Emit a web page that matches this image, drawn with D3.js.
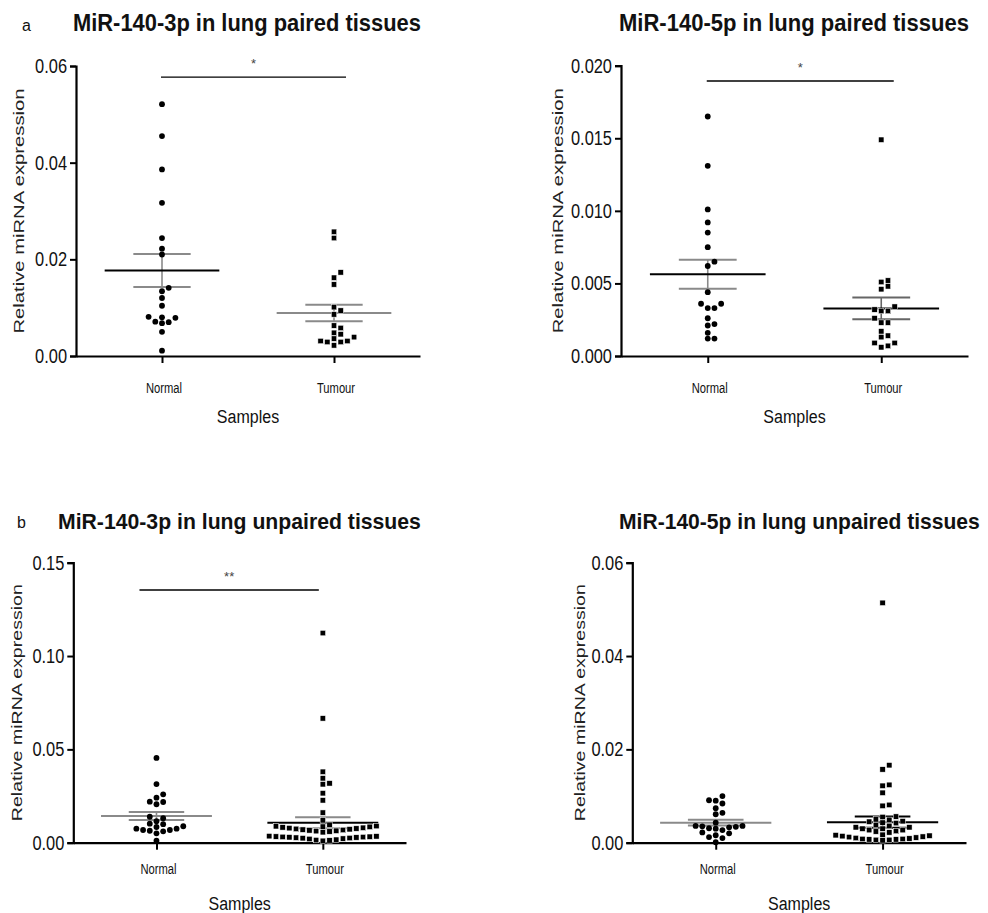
<!DOCTYPE html>
<html><head><meta charset="utf-8">
<script src="https://cdn.jsdelivr.net/npm/d3@7"></script>
<style>body{margin:0;background:#fff}svg{display:block}</style>
</head><body>
<svg id="chart" width="988" height="913"></svg>
<script>
// ---------------- DATA ----------------
const categories = ["Normal", "Tumour"];

// a: paired tissues
const p3Normal = [0.0521,0.0455,0.0386,0.0317,0.0244,0.0222,0.0210,0.0141,0.0134,0.0120,0.0104,0.0081,0.0080,0.0079,0.0071,0.0070,0.0068,0.0050,0.0011];
const p3Tumour = [0.0257,0.0244,0.0173,0.0162,0.0148,0.0101,0.0094,0.0086,0.0063,0.0058,0.0048,0.0045,0.0039,0.0036,0.0031,0.0031,0.0029,0.0029,0.0022];
const p5Normal = [0.0165,0.0131,0.0101,0.0092,0.0085,0.0075,0.0065,0.0062,0.0044,0.0036,0.0036,0.0033,0.0033,0.0026,0.0022,0.0021,0.0016,0.0012,0.0012];
const p5Tumour = [0.0149,0.0052,0.0051,0.0048,0.0046,0.0034,0.0032,0.0031,0.0031,0.0026,0.0023,0.0023,0.0017,0.0014,0.0013,0.0009,0.0009,0.0007,0.0006];

// b: unpaired tissues
const u3Normal = [0.0454,0.0314,0.0259,0.0241,0.0220,0.0218,0.0206,0.0139,0.0131,0.0115,0.0102,0.0099,0.0088,0.0084,0.0075,0.0075,0.0068,0.0068,0.0064,0.0061,0.0050,0.0011];
const u3Tumour = [0.1123,0.0666,0.0380,0.0345,0.0318,0.0313,0.0265,0.0227,0.0161,0.0120,0.0096,
  0.0089,0.0088,0.0086,0.0085,0.0082,0.0080,0.0078,0.0076,0.0074,0.0072,0.0070,0.0068,0.0066,0.0064,0.0062,0.0060,0.0056,
  0.0035,0.0034,0.0033,0.0032,0.0031,0.0030,0.0029,0.0028,0.0027,0.0025,0.0024,0.0022,0.0020,0.0016,0.0014,0.0012,0.0010];
const u5Normal = [0.0100,0.0091,0.0090,0.0084,0.0074,0.0064,0.0061,0.0043,0.0036,0.0036,0.0035,0.0034,0.0033,0.0031,0.0030,0.0027,0.0022,0.0020,0.0016,0.0012,0.0010,0.0001];
const u5Tumour = [0.0514,0.0166,0.0157,0.0124,0.0122,0.0107,0.0081,0.0079,
  0.0056,0.0055,0.0050,0.0049,0.0046,0.0045,0.0043,0.0042,
  0.0038,0.0036,0.0033,0.0033,0.0030,0.0030,0.0027,0.0027,0.0025,0.0024,0.0022,
  0.0017,0.0016,0.0015,0.0014,0.0013,0.0012,0.0011,0.0010,0.0009,0.0008,0.0008,0.0007,0.0007,0.0006,0.0006,0.0005];

// mean and SEM (Normal, Tumour)
const p3Mean = [0.0177, 0.0089],  p3Sem = [0.0034, 0.0017];
const p5Mean = [0.00563, 0.00328], p5Sem = [0.00100, 0.00075];
const u3Mean = [0.0143, 0.0107],  u3Sem = [0.0021, 0.0030];
const u5Mean = [0.0043, 0.0044],  u5Sem = [0.0006, 0.0012];

// axis ticks
const p3Ticks = [0, 0.02, 0.04, 0.06];
const p5Ticks = [0, 0.005, 0.010, 0.015, 0.020];
const u3Ticks = [0, 0.05, 0.10, 0.15];
const u5Ticks = [0, 0.02, 0.04, 0.06];

// significance annotations
const p3Sig = {level: 0.0577, label: "*"};
const p5Sig = {level: 0.01895, label: "*"};
const u3Sig = {level: 0.1354, label: "**"};

// ---------------- LAYOUT ----------------
const FONT = "'Liberation Sans', Arial, Helvetica, sans-serif";
const GRAY = "#8a8a8a";
const svg = d3.select("#chart");

const panels = [
  {letter:"a", lx:22, lb:31, title:"MiR-140-3p in lung paired tissues", tx0:73, tx1:421, tb:31, tfs:23.5,
   x0:76, x1:420, yTop:66, yBot:356, max:0.06, ticks:p3Ticks, fmt:".2f",
   normal:p3Normal, tumour:p3Tumour, mean:p3Mean, sem:p3Sem,
   meanCol:["#000", GRAY], semCol:[GRAY, GRAY], sig:p3Sig, sigDx:[-1, 12],
   ylabX:18, ylabLen:245},
  {letter:"", title:"MiR-140-5p in lung paired tissues", tx0:619, tx1:969, tb:31, tfs:23.5,
   x0:621, x1:968, yTop:65.7, yBot:356, max:0.020, ticks:p5Ticks, fmt:".3f",
   normal:p5Normal, tumour:p5Tumour, mean:p5Mean, sem:p5Sem,
   meanCol:["#000", "#000"], semCol:[GRAY, "#666"], sig:p5Sig, sigDx:[-1, 12.5],
   ylabX:557, ylabLen:245},
  {letter:"b", lx:17, lb:528, title:"MiR-140-3p in lung unpaired tissues", tx0:58, tx1:421, tb:529, tfs:22.5,
   x0:73.3, x1:406, yTop:562.7, yBot:842.7, max:0.15, ticks:u3Ticks, fmt:".2f",
   normal:u3Normal, tumour:u3Tumour, mean:u3Mean, sem:u3Sem,
   meanCol:[GRAY, "#000"], semCol:[GRAY, GRAY], sig:u3Sig, sigDx:[-17, -4],
   ylabX:16, ylabLen:237},
  {letter:"", title:"MiR-140-5p in lung unpaired tissues", tx0:619, tx1:980, tb:529, tfs:22.5,
   x0:632.3, x1:966, yTop:562.7, yBot:842.7, max:0.06, ticks:u5Ticks, fmt:".2f",
   normal:u5Normal, tumour:u5Tumour, mean:u5Mean, sem:u5Sem,
   meanCol:[GRAY, "#000"], semCol:[GRAY, "#000"], sig:null,
   ylabX:579, ylabLen:237}
];

function squeeze(sel, ratio) {
  sel.each(function() {
    const w = this.getComputedTextLength();
    d3.select(this).attr("textLength", w * ratio).attr("lengthAdjust", "spacingAndGlyphs");
  });
}

// simple dodge (beeswarm) layout computed from values
function dodge(values, y, step, size) {
  const order = values.map((v, i) => i).sort((a, b) => values[a] - values[b]);
  const placed = [];
  const out = new Array(values.length);
  for (const i of order) {
    const py = y(values[i]);
    for (let k = 0; k < 400; k++) {
      const off = k === 0 ? 0 : (k % 2 ? Math.ceil(k / 2) : -Math.ceil(k / 2));
      const px = off * step;
      if (!placed.some(q => Math.abs(q.x - px) < step * 0.99 && Math.abs(q.y - py) < size)) {
        placed.push({x: px, y: py});
        out[i] = {dx: px, v: values[i]};
        break;
      }
    }
  }
  return out;
}

panels.forEach(p => {
  const g = svg.append("g");
  const x = d3.scalePoint().domain(categories).range([p.x0, p.x1]).padding(0.5);
  const y = d3.scaleLinear().domain([0, p.max]).range([p.yBot, p.yTop]);
  const band = x.step();

  // letter
  if (p.letter) {
    g.append("text").attr("x", p.lx).attr("y", p.lb).text(p.letter)
      .attr("font-family", FONT).attr("font-size", 16).attr("fill", "#111");
  }
  // title (condensed with a horizontal scale so it spans the measured width)
  const tt = g.append("text").attr("x", 0).attr("y", 0).text(p.title)
    .attr("font-family", FONT).attr("font-weight", "bold").attr("font-size", p.tfs)
    .attr("fill", "#111");
  const tw = tt.node().getComputedTextLength();
  tt.attr("transform", `translate(${p.tx0},${p.tb}) scale(${(p.tx1 - p.tx0) / tw},1)`);

  // y axis
  const yAxis = d3.axisLeft(y).tickValues(p.ticks).tickFormat(d3.format(p.fmt)).tickSize(6).tickPadding(3);
  const ya = g.append("g").attr("transform", `translate(${p.x0},0)`).call(yAxis);
  ya.select(".domain").attr("stroke", "#000").attr("stroke-width", 2.2);
  ya.selectAll(".tick line").attr("stroke", "#000").attr("stroke-width", 2);
  ya.selectAll(".tick text").attr("font-family", FONT).attr("font-size", 20).attr("fill", "#111");
  squeeze(ya.selectAll(".tick text"), 0.82);

  // x axis
  const xAxis = d3.axisBottom(x).tickSize(7).tickSizeOuter(0).tickPadding(0).tickFormat("");
  const xa = g.append("g").attr("transform", `translate(0,${p.yBot})`).call(xAxis);
  xa.select(".domain").attr("stroke", "#000").attr("stroke-width", 2.2);
  xa.selectAll(".tick line").attr("stroke", "#000").attr("stroke-width", 2);
  // category labels
  const cl = g.selectAll(".cat").data(categories).enter().append("text").attr("class", "cat")
    .attr("x", d => x(d) + 2).attr("y", p.yBot + (p.yBot > 500 ? 31 : 37))
    .attr("text-anchor", "middle").text(d => d)
    .attr("font-family", FONT).attr("font-size", 14).attr("fill", "#111");
  squeeze(cl, 0.8);

  // x title
  const st = g.append("text").attr("x", (p.x0 + p.x1) / 2).attr("y", p.yBot + 67)
    .attr("text-anchor", "middle").text("Samples")
    .attr("font-family", FONT).attr("font-size", 18).attr("fill", "#111");
  squeeze(st, 0.89);

  // y title
  g.append("text").attr("transform", `translate(${p.ylabX + 5.5},${(p.yTop + p.yBot) / 2}) rotate(-90)`)
    .attr("text-anchor", "middle").text("Relative miRNA expression")
    .attr("font-family", FONT).attr("font-size", 15.5).attr("fill", "#222")
    .attr("textLength", p.ylabLen).attr("lengthAdjust", "spacingAndGlyphs");

  // mean & SEM lines
  categories.forEach((c, i) => {
    const cx = x(c);
    const m = p.mean[i], s = p.sem[i];
    g.append("line").attr("x1", cx).attr("x2", cx).attr("y1", y(m + s)).attr("y2", y(m - s))
      .attr("stroke", p.semCol[i]).attr("stroke-width", 1.6);
    [m + s, m - s].forEach(v => {
      g.append("line").attr("x1", cx - band / 6).attr("x2", cx + band / 6).attr("y1", y(v)).attr("y2", y(v))
        .attr("stroke", p.semCol[i]).attr("stroke-width", 2);
    });
    g.append("line").attr("x1", cx - band / 3).attr("x2", cx + band / 3).attr("y1", y(m)).attr("y2", y(m))
      .attr("stroke", p.meanCol[i]).attr("stroke-width", 2);
  });

  // points
  const step = 6.7, size = 5.6;
  const nPts = dodge(p.normal, y, step, size);
  g.selectAll(".ptN").data(nPts).enter().append("circle")
    .attr("cx", d => x("Normal") + d.dx).attr("cy", d => y(d.v)).attr("r", 2.9)
    .attr("fill", "#000");
  const tPts = dodge(p.tumour, y, step, size);
  const sq = 5.4;
  g.selectAll(".ptT").data(tPts).enter().append("rect")
    .attr("x", d => x("Tumour") + d.dx - sq / 2).attr("y", d => y(d.v) - sq / 2)
    .attr("width", sq).attr("height", sq).attr("fill", "#000")
    .attr("stroke", "#fff").attr("stroke-width", 0.5);

  // significance bar
  if (p.sig) {
    const xa0 = x("Normal") + p.sigDx[0], xa1 = x("Tumour") + p.sigDx[1];
    g.append("line").attr("x1", xa0).attr("x2", xa1).attr("y1", y(p.sig.level)).attr("y2", y(p.sig.level))
      .attr("stroke", "#000").attr("stroke-width", 1.4);
    g.append("text").attr("x", (xa0 + xa1) / 2).attr("y", y(p.sig.level) - 9)
      .attr("text-anchor", "middle").text(p.sig.label)
      .attr("font-family", FONT).attr("font-size", 13).attr("fill", "#444");
  }
});
</script>
</body></html>
